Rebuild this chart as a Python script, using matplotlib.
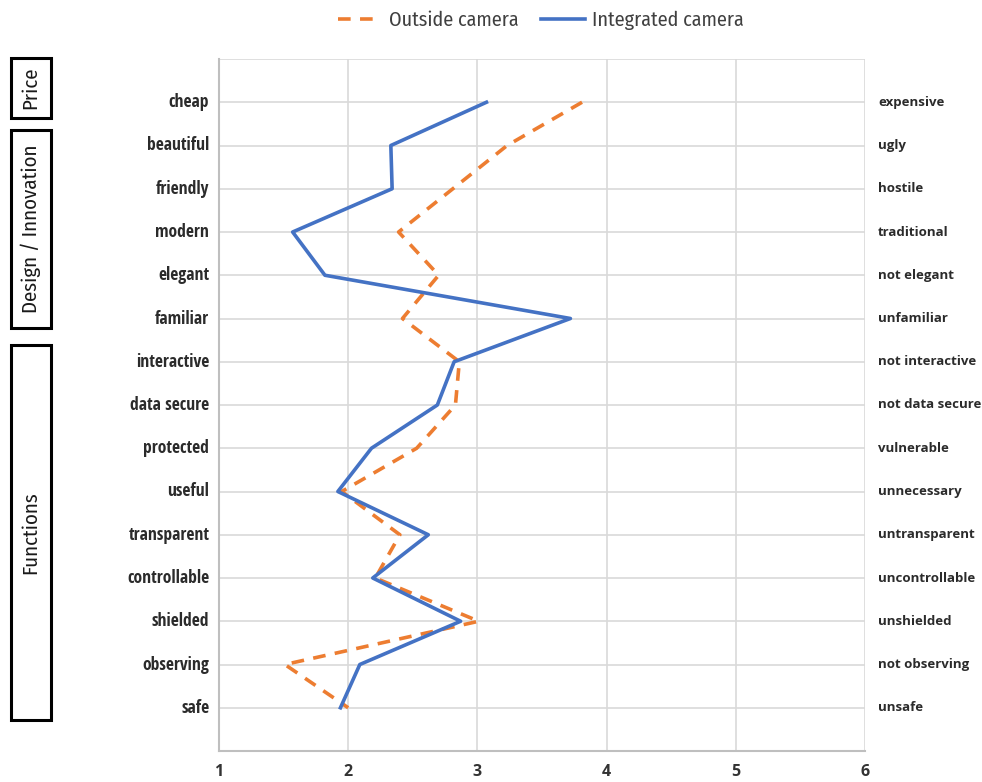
import matplotlib
matplotlib.use("Agg")
import matplotlib.pyplot as plt
from matplotlib.patches import Rectangle
from matplotlib.lines import Line2D

left_labels = ["cheap", "beautiful", "friendly", "modern", "elegant", "familiar",
               "interactive", "data secure", "protected", "useful", "transparent",
               "controllable", "shielded", "observing", "safe"]
right_labels = ["expensive", "ugly", "hostile", "traditional", "not elegant", "unfamiliar",
                "not interactive", "not data secure", "vulnerable", "unnecessary",
                "untransparent", "uncontrollable", "unshielded", "not observing", "unsafe"]
outside_camera = [3.81, 3.23, 2.81, 2.39, 2.70, 2.42, 2.86, 2.83, 2.53, 1.95,
                  2.40, 2.21, 3.01, 1.51, 2.00]
integrated_camera = [3.07, 2.33, 2.34, 1.57, 1.82, 3.72, 2.82, 2.69, 2.18, 1.92,
                     2.62, 2.19, 2.87, 2.09, 1.94]
x_ticks = [1, 2, 3, 4, 5, 6]
group_names = ["Price", "Design / Innovation", "Functions"]

COND = ["Open Sans Condensed", "PT Sans Narrow", "DejaVu Sans"]
LIGHT = ["Fira Sans Condensed", "PT Sans Narrow", "DejaVu Sans"]
WIDE = ["Open Sans", "DejaVu Sans"]

fig = plt.figure(figsize=(9.82, 7.82), dpi=100)
W, H = 982, 782
ax = fig.add_axes([219 / W, 1 - 751 / H, (865 - 219) / W, (751 - 59) / H])

ypos = list(range(len(left_labels)))
grid_c = "#d9d9d9"
for y in range(-1, len(left_labels) + 1):
    ax.axhline(y, color=grid_c, lw=1.2, zorder=0)
for x in x_ticks[1:]:
    ax.axvline(x, color=grid_c, lw=1.2, zorder=0)

ax.plot(outside_camera, ypos, color="#ed7d31", lw=2.6, ls=(0, (3.5, 2.6)), zorder=3)
ax.plot(integrated_camera, ypos, color="#4472c4", lw=2.6, zorder=4)

ax.set_xlim(1, 6)
ax.set_ylim(len(left_labels), -1)
for s in ["top", "right"]:
    ax.spines[s].set_visible(False)
for s in ["left", "bottom"]:
    ax.spines[s].set_color("#bfbfbf")
    ax.spines[s].set_linewidth(1.5)
ax.set_xticks(x_ticks)
ax.set_xticklabels([str(t) for t in x_ticks], fontsize=11.5, fontweight="bold",
                   color="#333333", family=WIDE)
ax.tick_params(axis="x", length=0, pad=9)
ax.set_yticks([])

for i, (l, r) in enumerate(zip(left_labels, right_labels)):
    ax.text(-0.015, i, l, transform=ax.get_yaxis_transform(), ha="right", va="center",
            fontsize=12.6, fontweight="bold", color="#2b2b2b", family=COND)
    ax.text(1.02, i, r, transform=ax.get_yaxis_transform(), ha="left", va="center",
            fontsize=9.5, fontweight="bold", color="#2b2b2b", family=WIDE)

boxes = [(58, 118), (130, 328), (345, 720)]
for name, (ytop, ybot) in zip(group_names, boxes):
    fig.patches.append(Rectangle((11 / W, 1 - ybot / H), 40 / W, (ybot - ytop) / H,
                                 transform=fig.transFigure, fill=False,
                                 edgecolor="black", lw=2.2))
    fig.text(31 / W, 1 - (ytop + ybot) / 2 / H, name, rotation=90, ha="center",
             va="center", fontsize=15, family=LIGHT, fontweight="normal", color="#1a1a1a")

handles = [Line2D([], [], color="#ed7d31", lw=2.6, ls=(0, (3.5, 2.6))),
           Line2D([], [], color="#4472c4", lw=2.6)]
leg = fig.legend(handles, ["Outside camera", "Integrated camera"], loc="center",
                 bbox_to_anchor=(541 / W, 1 - 20 / H), ncol=2, frameon=False,
                 prop={"family": LIGHT, "size": 14.5, "weight": "normal"},
                 handlelength=2.2, handletextpad=0.35, columnspacing=1.1)
for t in leg.get_texts():
    t.set_color("#404040")

fig.savefig("out.png", dpi=100, facecolor="white")
